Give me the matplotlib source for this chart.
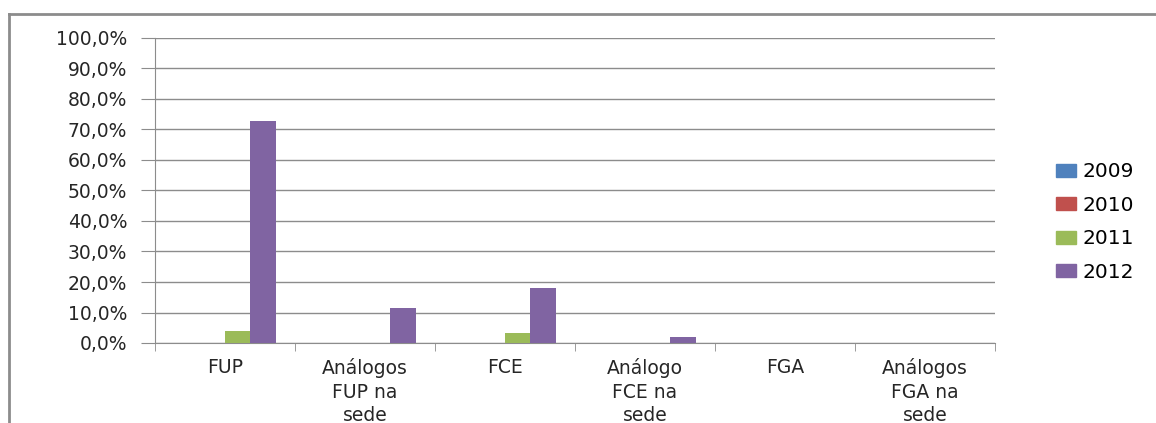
import numpy as np
import matplotlib.pyplot as plt
from matplotlib.lines import Line2D
from matplotlib.ticker import FuncFormatter

# Data
categories = ['FUP', 'Análogos\nFUP na\nsede', 'FCE', 'Análogo\nFCE na\nsede', 'FGA', 'Análogos\nFGA na\nsede']
years = ['2009', '2010', '2011', '2012']
v2009 = [0, 0, 0, 0, 0, 0]
v2010 = [0, 0, 0, 0, 0, 0]
v2011 = [3.9, 0, 3.4, 0, 0, 0]
v2012 = [72.8, 11.4, 18.0, 1.9, 0, 0]
colors = ['#4F81BD', '#C0504D', '#9BBB59', '#8064A2']

plt.rcParams['font.family'] = ['DejaVu Sans']

fig = plt.figure(figsize=(11.56, 4.23), dpi=100)
ax = fig.add_axes([155 / 1156, 1 - 343 / 423, 840 / 1156, 305 / 423])

x = np.arange(len(categories))
w = 1 / 5.5
series = [v2009, v2010, v2011, v2012]
for i, (vals, yr, c) in enumerate(zip(series, years, colors)):
    ax.bar(x + (i - 1.5) * w, vals, w, color=c, label=yr, zorder=3)

ax.set_xlim(-0.5, len(categories) - 0.5)
ax.set_ylim(0, 100)
ax.set_yticks(np.arange(0, 101, 10))
ax.yaxis.set_major_formatter(FuncFormatter(lambda v, p: f'{v:.1f}%'.replace('.', ',')))
ax.grid(axis='y', color='#8c8c8c', linewidth=1, zorder=0)

ax.set_xticks(x)
ax.set_xticklabels(categories, fontsize=13.5, color='#262626', linespacing=1.3)
ax.set_xticks(np.arange(-0.5, len(categories)), minor=True)
ax.tick_params(axis='x', which='major', length=0, pad=11)
ax.tick_params(axis='x', which='minor', length=6, color='#8c8c8c')
ax.tick_params(axis='y', length=10, color='#8c8c8c', labelsize=13.5, labelcolor='#262626', pad=10)

for s in ['top', 'right']:
    ax.spines[s].set_visible(False)
for s in ['left', 'bottom']:
    ax.spines[s].set_color('#8c8c8c')

handles = [plt.Rectangle((0, 0), 1, 1, color=c) for c in colors]
fig.legend(handles, years, loc='center left', bbox_to_anchor=(1046 / 1156, 1 - 222 / 423),
           frameon=False, fontsize=14.5, handlelength=1.0, handleheight=0.6,
           handletextpad=0.3, labelspacing=0.72, borderpad=0)

# outer chart frame (cut off at right and bottom in the source)
fig.add_artist(Line2D([9 / 1156, 9 / 1156], [0, 1 - 14 / 423], color='#8c8c8c', lw=2, transform=fig.transFigure))
fig.add_artist(Line2D([9 / 1156, 1], [1 - 14 / 423, 1 - 14 / 423], color='#8c8c8c', lw=2, transform=fig.transFigure))

fig.savefig('out.png', dpi=100)
